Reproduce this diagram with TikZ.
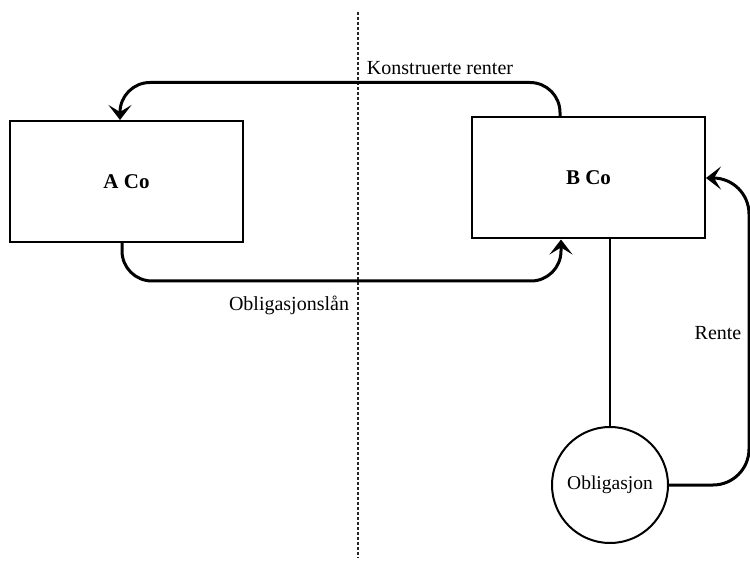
\documentclass[tikz,border=0pt]{standalone}
\usepackage{fontspec}
\setmainfont{Liberation Serif}
\usetikzlibrary{arrows.meta}
\begin{document}
\begin{tikzpicture}[x=1pt,y=-1pt,
  company/.style={draw,line width=2pt,minimum width=233pt,minimum height=121pt,
    inner sep=0pt,font=\fontsize{21}{24}\selectfont\bfseries},
  asset/.style={draw,circle,line width=2pt,minimum size=116pt,inner sep=0pt,
    font=\fontsize{19.5}{24}\selectfont},
  flow/.style={line width=3pt,rounded corners=30pt,
    -{Stealth[length=15pt,width=23pt,inset=7pt]}},
  tag/.style={font=\fontsize{20}{24}\selectfont,inner sep=0pt},
  link/.style={line width=2pt}]
\useasboundingbox (0,0) rectangle (750,561);

% border between the two jurisdictions
\coordinate (top) at (358,12);
\coordinate (bottom) at (358,558);
\draw[line width=1.6pt,black!85,dash pattern=on 3pt off 2pt] (top) -- (bottom);

% companies and the bond
\node[company] (aco) at (126.5,181.5) {A Co};
\node[company] (bco) at (588.5,178) {B Co};
\node[asset] (bond) at (610,485) {Obligasjon};

% B Co holds the bond
\draw[link] ([xshift=21.5pt]bco.south) -- (bond.north);

% flows between the parties
\draw[flow] ([xshift=-28.5pt]bco.north) -- ++(0,-34) -| ([xshift=-6.5pt]aco.north);
\draw[flow] ([xshift=-4.5pt]aco.south) -- ++(0,38) -| ([xshift=-27.5pt]bco.south);
\coordinate (redge) at (749,0);
\draw[flow,rounded corners=36pt] (bond.east) -| (redge |- bco.east) -- (bco.east);

% labels
\node[tag] (kr) at (440,68) {Konstruerte renter};
\node[tag] (ol) at (289,305) {Obligasjonslån};
\node[tag] (re) at (718,333) {Rente};
\end{tikzpicture}
\end{document}
